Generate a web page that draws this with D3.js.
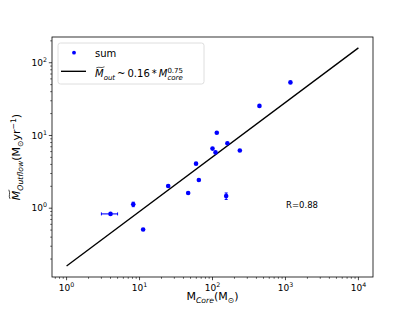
<!DOCTYPE html>
<html><head><meta charset="utf-8">
<script src="https://cdn.jsdelivr.net/npm/d3@7"></script>
<style>body{margin:0;background:#fff}svg{display:block}text{font-family:"DejaVu Sans",sans-serif;fill:#000}</style>
</head><body>
<svg id="c" width="415" height="311"></svg>
<script>
// data
const mcore = [4, 8.2, 11.2, 24.7, 46.4, 59.5, 65, 100, 110, 114.5, 154, 160, 237, 440, 1170];
const mout  = [0.835, 1.13, 0.51, 2.02, 1.62, 4.1, 2.44, 6.6, 5.85, 10.9, 1.47, 7.8, 6.2, 25.5, 53.7];
const xerr  = [1, 0, 0, 0, 0, 0, 0, 0, 0, 0, 0, 0, 0, 0, 0];
const yerr  = [0, 0.08, 0, 0, 0, 0, 0, 0.1, 0, 0, 0.15, 0, 0, 0, 0];
const fitX  = [1, 10000];
const fitY  = [0.16, 160];
const xTicks = [1, 10, 100, 1000, 10000];
const yTicks = [1, 10, 100];
const rText = "R=0.88";

const svg = d3.select("#c");
const L = 52, R = 373, T = 37, B = 277;
const x = d3.scaleLog().domain([Math.pow(10,-0.2), Math.pow(10,4.2)]).range([L, R]);
const y = d3.scaleLog().domain([Math.pow(10,-0.946), Math.pow(10,2.354)]).range([B, T]);

function minors(dom){
  const out=[];
  for(let e=-2;e<=5;e++) for(let m=2;m<=9;m++){const v=m*Math.pow(10,e); if(v>=dom[0]&&v<=dom[1]) out.push(v);}
  return out;
}
const g = svg.append("g");
minors(x.domain()).forEach(v=>g.append("line").attr("x1",x(v)).attr("x2",x(v)).attr("y1",B).attr("y2",B+1.8).attr("stroke","#000").attr("stroke-width",0.6));
minors(y.domain()).forEach(v=>g.append("line").attr("y1",y(v)).attr("y2",y(v)).attr("x1",L).attr("x2",L-1.8).attr("stroke","#000").attr("stroke-width",0.6));
xTicks.forEach(v=>{
  g.append("line").attr("x1",x(v)).attr("x2",x(v)).attr("y1",B).attr("y2",B+3.2).attr("stroke","#000").attr("stroke-width",0.72);
  const t=g.append("text").attr("x",x(v)).attr("y",B+13.5).attr("text-anchor","middle").attr("font-size",9);
  t.append("tspan").text("10");
  t.append("tspan").attr("dy",-4).attr("font-size",6.3).text(String(Math.round(Math.log10(v))));
});
yTicks.forEach(v=>{
  g.append("line").attr("y1",y(v)).attr("y2",y(v)).attr("x1",L).attr("x2",L-3.2).attr("stroke","#000").attr("stroke-width",0.72);
  const t=g.append("text").attr("x",L-5).attr("y",y(v)+3.2).attr("text-anchor","end").attr("font-size",9);
  t.append("tspan").text("10");
  t.append("tspan").attr("dy",-4).attr("font-size",6.3).text(String(Math.round(Math.log10(v))));
});

// fit line
svg.append("path").attr("d",d3.line().x(d=>x(d[0])).y(d=>y(d[1]))(fitX.map((v,i)=>[v,fitY[i]])))
  .attr("stroke","#000").attr("stroke-width",1.35).attr("fill","none");

// error bars
const blue="#0000ff";
mcore.forEach((v,i)=>{
  if(xerr[i]>0){
    const x0=x(v-xerr[i]), x1=x(v+xerr[i]), yy=y(mout[i]);
    svg.append("line").attr("x1",x0).attr("x2",x1).attr("y1",yy).attr("y2",yy).attr("stroke",blue).attr("stroke-width",1.1);
    [x0,x1].forEach(xx=>svg.append("line").attr("x1",xx).attr("x2",xx).attr("y1",yy-1.5).attr("y2",yy+1.5).attr("stroke",blue).attr("stroke-width",1));
  }
  if(yerr[i]>0){
    const y0=y(mout[i]-yerr[i]), y1=y(mout[i]+yerr[i]), xx=x(v);
    svg.append("line").attr("x1",xx).attr("x2",xx).attr("y1",y0).attr("y2",y1).attr("stroke",blue).attr("stroke-width",1.1);
    [y0,y1].forEach(yy=>svg.append("line").attr("x1",xx-1.5).attr("x2",xx+1.5).attr("y1",yy).attr("y2",yy).attr("stroke",blue).attr("stroke-width",1));
  }
});
svg.selectAll("circle.pt").data(mcore).enter().append("circle").attr("class","pt")
  .attr("cx",d=>x(d)).attr("cy",(d,i)=>y(mout[i])).attr("r",2.3).attr("fill",blue);

// frame
svg.append("rect").attr("x",L).attr("y",T).attr("width",R-L).attr("height",B-T).attr("fill","none").attr("stroke","#000").attr("stroke-width",0.8);

// R text
svg.append("text").attr("x",286).attr("y",207.5).attr("font-size",8.5).text(rText);

// wide tilde above the "M" at local baseline position (bx, by)
function tilde(parent, bx, by, fs){
  const x0 = bx + fs*0.12, x1 = bx + fs*0.95;
  const yb = by - fs*0.97;
  const w = x1-x0, a = fs*0.06;
  parent.append("path")
    .attr("d",`M${x0},${yb+a} C${x0+w*0.3},${yb-a*1.8} ${x0+w*0.6},${yb+a*2.2} ${x1},${yb-a*0.8}`)
    .attr("fill","none").attr("stroke","#000").attr("stroke-width",fs*0.065);
}

// legend
const lg=svg.append("g");
lg.append("rect").attr("x",58).attr("y",43).attr("width",146).attr("height",41).attr("rx",2.5)
  .attr("fill","#fff").attr("fill-opacity",0.8).attr("stroke","#d6d6d6").attr("stroke-width",0.8);
lg.append("circle").attr("cx",74).attr("cy",52.7).attr("r",1.9).attr("fill",blue);
lg.append("text").attr("x",95).attr("y",56.5).attr("font-size",10).text("sum");
lg.append("line").attr("x1",61).attr("x2",86).attr("y1",71.3).attr("y2",71.3).attr("stroke","#000").attr("stroke-width",1.35);
const lt=lg.append("text").attr("x",95).attr("y",77).attr("font-size",10);
const lm=lt.append("tspan").attr("font-style","italic").text("M");
lt.append("tspan").attr("dy",2.5).attr("font-size",7).attr("font-style","italic").text("out");
lt.append("tspan").attr("dy",-2.5).text("\u2009~\u20090.16\u2009*\u2009");
lt.append("tspan").attr("font-style","italic").text("M");
const sup=lt.append("tspan").attr("dy",-4.5).attr("font-size",7).text("0.75");
tilde(lg, 95, 77, 10);
const supStart = sup.node().getStartPositionOfChar(0).x;
lg.append("text").attr("x",supStart).attr("y",79.5).attr("font-size",7).attr("font-style","italic").text("core");

// axis labels
const xl=svg.append("text").attr("x",212.5).attr("y",300).attr("text-anchor","middle").attr("font-size",11);
xl.append("tspan").text("M");
xl.append("tspan").attr("dy",2.5).attr("font-size",7.7).attr("font-style","italic").text("Core");
xl.append("tspan").attr("dy",-2.5).text("(M");
xl.append("tspan").attr("dy",2.5).attr("font-size",7.7).text("\u2299");
xl.append("tspan").attr("dy",-2.5).text(")");

const yg=svg.append("g").attr("transform","translate(20,157) rotate(-90)");
const yl=yg.append("text").attr("x",0).attr("y",0).attr("text-anchor","middle").attr("font-size",11);
const ym=yl.append("tspan").attr("font-style","italic").text("M");
yl.append("tspan").attr("dy",2.5).attr("font-size",7.7).attr("font-style","italic").text("Outflow");
yl.append("tspan").attr("dy",-2.5).text("(M");
yl.append("tspan").attr("dy",2.5).attr("font-size",7.7).text("\u2299");
yl.append("tspan").attr("dy",-2.5).text("yr");
yl.append("tspan").attr("dy",-4.5).attr("font-size",7.7).text("\u22121");
yl.append("tspan").attr("dy",4.5).text(")");
const yStart = ym.node().getStartPositionOfChar(0);
tilde(yg, yStart.x, yStart.y, 11);
</script>
</body></html>
